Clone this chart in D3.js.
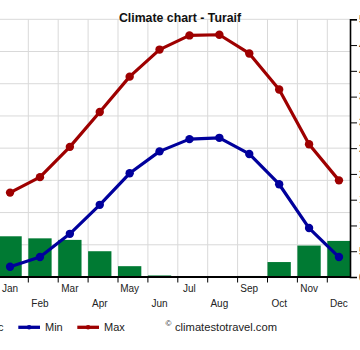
<!DOCTYPE html>
<html><head><meta charset="utf-8">
<script src="https://cdn.jsdelivr.net/npm/d3@7"></script>
<style>
html,body{margin:0;padding:0;background:#fff;}
svg{display:block;font-family:"Liberation Sans",Arial,sans-serif;}
</style></head>
<body>
<svg id="c" width="360" height="350"></svg>
<script>
const months = ["Jan","Feb","Mar","Apr","May","Jun","Jul","Aug","Sep","Oct","Nov","Dec"];
const tempMin = [1.6, 3.1, 6.7, 11.2, 16.1, 19.5, 21.4, 21.6, 19.1, 14.4, 7.6, 3.1];
const tempMax = [13.1, 15.5, 20.2, 25.6, 31.1, 35.3, 37.5, 37.6, 34.7, 29.1, 20.6, 15.0];
const precip = [7.9, 7.5, 7.2, 5.0, 2.1, 0.3, 0, 0, 0.2, 2.9, 6.1, 7.0];
const tempTicks = [0, 5, 10, 15, 20, 25, 30, 35, 40];
const precTicks = [0, 5, 10, 15, 20, 25, 30, 35, 40, 45, 50];
const chartTitle = "Climate chart - Turaif";

const svg = d3.select("#c");
const plotTop = 19.3, plotBottom = 277, plotRight = 350;
const x = d3.scaleBand().domain(months).range([-1.6, 357.2]).padding(0);
const barW = x.bandwidth() * 0.78;
const cx = m => x(m) + barW / 2;
const yT = d3.scaleLinear().domain([0, 40]).range([plotBottom, plotTop]);
const yP = d3.scaleLinear().domain([0, 50]).range([plotBottom, plotTop]);

// grid
const g = svg.append("g");
g.selectAll("line.h").data(tempTicks).join("line").attr("class", "h")
  .attr("x1", -20).attr("x2", plotRight).attr("y1", d => yT(d)).attr("y2", d => yT(d))
  .attr("stroke", "#d9d9d9").attr("stroke-width", 1);
g.selectAll("line.v").data(months).join("line").attr("class", "v")
  .attr("x1", d => x(d)).attr("x2", d => x(d)).attr("y1", plotTop).attr("y2", plotBottom)
  .attr("stroke", "#d9d9d9").attr("stroke-width", 1);

// bars
svg.append("g").selectAll("rect").data(precip).join("rect")
  .attr("x", (d, i) => x(months[i])).attr("width", barW)
  .attr("y", d => yP(d)).attr("height", d => plotBottom - yP(d))
  .attr("fill", "#007a33");

// lines
function series(data, color) {
  const line = d3.line().x((d, i) => cx(months[i])).y(d => yT(d));
  svg.append("path").datum(data).attr("d", line)
    .attr("fill", "none").attr("stroke", color).attr("stroke-width", 3.2)
    .attr("stroke-linejoin", "round");
  svg.append("g").selectAll("circle").data(data).join("circle")
    .attr("cx", (d, i) => cx(months[i])).attr("cy", d => yT(d)).attr("r", 4.2)
    .attr("fill", color);
}
series(tempMin, "#00009c");
series(tempMax, "#9e0000");

// bottom axis
svg.append("line").attr("x1", -20).attr("x2", plotRight).attr("y1", plotBottom).attr("y2", plotBottom)
  .attr("stroke", "#000").attr("stroke-width", 2);
svg.append("g").selectAll("line").data(months).join("line")
  .attr("x1", d => x(d)).attr("x2", d => x(d)).attr("y1", plotBottom).attr("y2", plotBottom + 5.5)
  .attr("stroke", "#000").attr("stroke-width", 1);
svg.append("g").selectAll("text").data(months).join("text")
  .attr("x", d => cx(d)).attr("y", (d, i) => i % 2 === 0 ? 292.3 : 306.7)
  .attr("text-anchor", "middle").attr("font-size", 10).attr("fill", "#222")
  .text(d => d);

// right axis
const ax = svg.append("g").attr("transform", `translate(${plotRight},0)`)
  .call(d3.axisRight(yP).tickValues(precTicks).tickSize(7).tickPadding(2));
ax.select(".domain").attr("stroke", "#000").attr("stroke-width", 1.6);
ax.selectAll(".tick line").attr("stroke", "#000");
ax.selectAll(".tick text").attr("font-size", 10).attr("fill", "#222")
  .attr("font-family", "Liberation Sans, Arial, sans-serif");

// title
svg.append("text").attr("x", 180).attr("y", 21.5).attr("text-anchor", "middle")
  .attr("font-size", 12.3).attr("font-weight", "bold").attr("fill", "#111").text(chartTitle);

// legend
const leg = svg.append("g").attr("font-size", 11).attr("fill", "#222");
leg.append("rect").attr("x", -34).attr("y", 322).attr("width", 10).attr("height", 10).attr("fill", "#007a33");
leg.append("text").attr("x", 3.4).attr("y", 331).attr("text-anchor", "end").text("Prec");
[["Min", "#00009c", 18.3], ["Max", "#9e0000", 77.3]].forEach(([t, c, x0]) => {
  leg.append("line").attr("x1", x0).attr("x2", x0 + 21.7).attr("y1", 327.3).attr("y2", 327.3)
    .attr("stroke", c).attr("stroke-width", 3.3);
  leg.append("circle").attr("cx", x0 + 10.8).attr("cy", 327.3).attr("r", 2.3).attr("fill", c);
  leg.append("text").attr("x", x0 + 26.7).attr("y", 331).text(t);
});
leg.append("text").attr("x", 165.5).attr("y", 326).attr("font-size", 8).text("©");
leg.append("text").attr("x", 175).attr("y", 331).attr("font-size", 11.2).text("climatestotravel.com");
</script>
</body></html>
